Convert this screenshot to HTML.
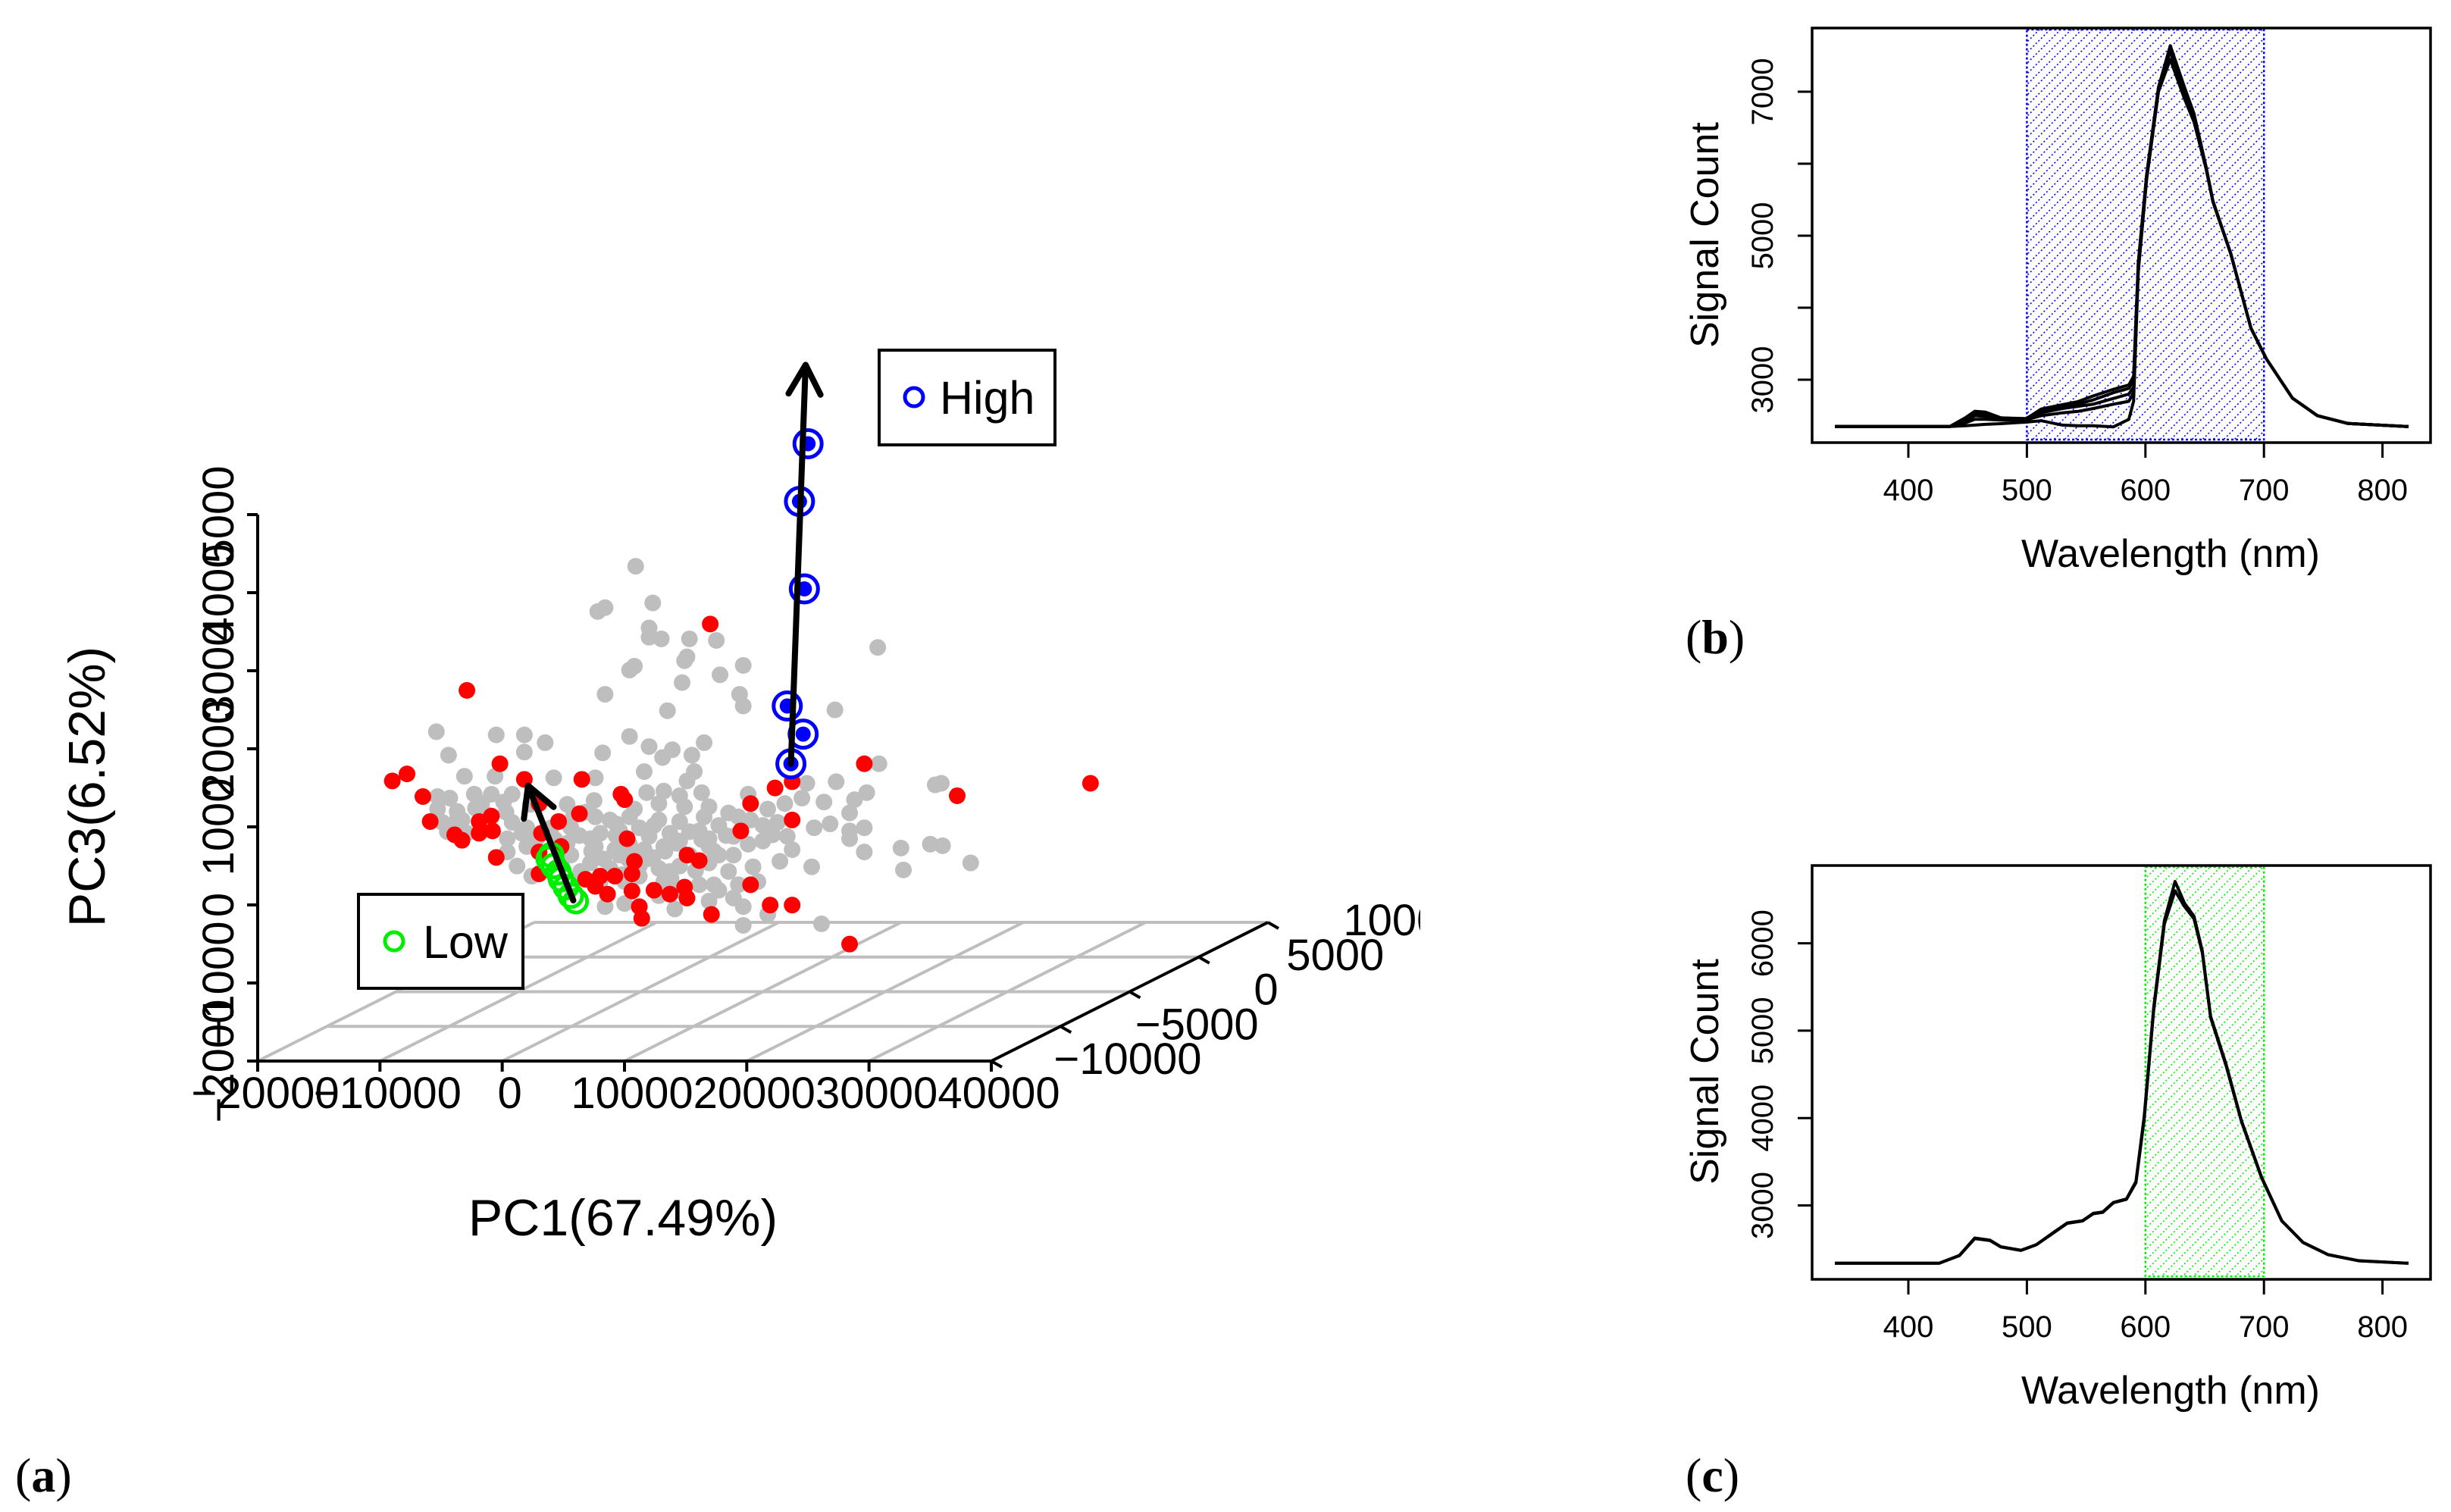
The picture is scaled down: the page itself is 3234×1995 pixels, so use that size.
<!DOCTYPE html>
<html><head><meta charset="utf-8">
<style>
html,body{margin:0;padding:0;background:#fff;}
svg{display:block;font-family:"Liberation Sans",Arial,sans-serif;}
</style></head>
<body>
<svg id="fig" xmlns="http://www.w3.org/2000/svg" width="3234" height="1995" viewBox="0 0 3234 1995">
<defs>
<pattern id="hatchBlue" patternUnits="userSpaceOnUse" width="14" height="14">
<path d="M-2,16 L16,-2" stroke="#0000ff" stroke-width="1.6" stroke-dasharray="2 3"/>
</pattern>
<pattern id="hatchGreen" patternUnits="userSpaceOnUse" width="14" height="14">
<path d="M-2,16 L16,-2" stroke="#00ee00" stroke-width="1.6" stroke-dasharray="2 3"/>
</pattern>
<clipPath id="clipA"><rect x="0" y="0" width="1874" height="1995"/></clipPath>
<clipPath id="clipB"><rect x="2391" y="37" width="816" height="547"/></clipPath>
<clipPath id="clipC"><rect x="2391" y="1142" width="816" height="546"/></clipPath>
</defs>
<g id="panelA" clip-path="url(#clipA)"></g>
<g id="panelB"></g>
<g id="panelC"></g>
<text x="20" y="1968" font-family="Liberation Serif,serif" font-size="64">(<tspan font-weight="bold">a</tspan>)</text>
<text x="2224" y="862" font-family="Liberation Serif,serif" font-size="64">(<tspan font-weight="bold">b</tspan>)</text>
<text x="2224" y="1968" font-family="Liberation Serif,serif" font-size="64">(<tspan font-weight="bold">c</tspan>)</text>
</svg>
<script>
// ---------- Panel A data (PC values in thousands) ----------
const grayPC1 = [-0.4,1.0,-3.5,-2.9,0.7,0.7,1.7,4.0,6.2,3.8,3.6,-0.5,-0.9,8.4,6.5,3.4,19.4,-2.9,8.1,8.4,2.2,15.9,-16.7,-11.8,-9.5,-7.8,-0.9,5.2,0.7,2.6,-15.7,-9.5,-3.1,1.8,4.2,-14.4,-11.9,-7.1,-3.7,0.3,4.4,3.8,19.5,13.6,16.0,24.1,24.6,-16.6,-15.6,-13.6,-12.2,-10.5,0.5,1.9,5.0,8.8,17.5,18.5,15.0,-16.6,-15.0,-13.0,-11.2,-0.5,1.5,3.6,5.6,7.2,10.4,11.8,13.2,17.1,-16.2,-14.6,-10.5,-9.3,-3.7,-2.5,1.5,3.2,5.2,8.0,10.0,11.2,14.2,15.5,17.1,18.3,-15.8,-10.9,-9.7,-5.7,-3.3,-1.7,0.7,2.4,5.6,7.6,10.8,12.0,17.1,21.3,23.7,24.7,-10.9,-9.3,-3.7,-2.1,0.3,1.9,5.6,7.6,10.0,12.4,18.3,-10.1,-4.1,-2.5,-0.1,1.5,3.2,5.6,9.2,11.4,14.0,27.0,21.5,-8.9,-3.3,-1.3,1.9,4.8,6.0,9.6,-2.9,-1.3,2.8,5.6,7.6,8.4,10.4,8.4,14.8,-0.1,2.4,7.2,4.0,6.4,1.1,3.2,-4.1,-0.9,-5.7,-4.9,-6.5,-1.7,-0.1,4.8,6.4,8.8,3.2,6.4,8.0,1.5,-0.9,-8.5,-7.3,-12.6,-14.2,3.2,
 -6.0,-5.0,-4.0,-3.0,-2.0,-1.0,0.0,1.0,2.0,3.0,4.0,5.0,6.0,7.0,9.0,-7.0,-5.5,-4.5,-2.0,-1.5,0.5,2.5,4.5,-11.0,-13.5,-15.0,-9.0,-6.0,-3.8];
const grayPC3 = [3.45,2.98,2.87,2.92,2.66,2.54,2.52,2.52,2.50,2.29,2.24,2.17,2.12,2.18,2.06,1.96,2.41,1.81,1.81,1.66,1.60,1.61,1.33,1.29,1.29,1.19,1.27,1.19,1.14,1.10,1.03,1.07,1.06,1.00,1.03,0.76,0.76,0.74,0.74,0.82,0.82,0.70,0.92,0.67,0.69,0.65,0.67,0.50,0.48,0.53,0.53,0.53,0.55,0.57,0.55,0.53,0.46,0.55,0.43,0.34,0.31,0.41,0.43,0.34,0.41,0.37,0.37,0.29,0.34,0.41,0.48,0.29,0.17,0.20,0.17,0.10,0.24,0.20,0.20,0.18,0.24,0.24,0.13,0.17,0.10,0.15,0.06,0.10,0.05,-0.04,0.03,0.10,0.03,0.06,-0.01,0.03,-0.04,-0.01,0.01,-0.01,-0.04,-0.16,-0.11,-0.13,-0.21,-0.14,-0.14,-0.18,-0.18,-0.14,-0.14,-0.25,-0.07,-0.18,-0.21,-0.39,-0.35,-0.42,-0.39,-0.42,-0.39,-0.35,-0.40,-0.33,-0.40,-0.35,-0.44,-0.52,-0.59,-0.59,-0.59,-0.63,-0.63,-0.59,-0.91,-0.87,-0.94,-0.84,-0.80,-0.91,-1.01,-1.15,-1.13,-0.52,-0.46,-0.46,-0.25,0.13,0.13,-0.07,-0.04,-0.11,-0.25,-0.46,-0.35,-0.25,0.10,0.06,-0.25,-0.11,-0.70,-0.70,-0.63,-0.77,0.24,-0.04,0.10,0.27,0.03,0.51,
 -0.10,0.00,-0.20,-0.30,0.00,-0.30,-0.25,-0.28,-0.20,-0.10,0.05,-0.05,-0.20,0.00,0.20,-0.05,0.25,0.30,0.15,-0.50,-0.30,-0.55,-0.45,0.30,0.35,0.20,0.40,0.40,0.45];
const redPC1 = [-14.2,5.7,-20.3,-19.1,-17.8,-11.5,-9.5,-4.8,-1.6,-1.3,9.0,11.0,12.4,18.3,25.9,36.8,-17.2,-13.2,-12.2,-15.2,-14.6,-13.2,-12.1,-8.3,-6.7,-5.0,12.4,8.2,-1.1,-8.1,-8.3,-6.5,-11.8,-0.5,3.8,4.8,-8.3,-4.5,-3.3,-2.1,-0.7,-3.7,-2.7,-0.7,1.1,2.4,3.6,3.8,9.0,-0.1,0.1,5.8,10.6,12.4,17.1];
const redPC3 = [1.86,2.71,0.70,0.79,0.50,0.92,0.72,0.72,0.53,0.46,0.41,0.61,0.69,0.92,0.51,0.67,0.18,0.18,0.25,0.01,-0.06,0.03,0.06,0.41,0.18,0.28,0.20,0.06,-0.04,0.03,-0.21,-0.14,-0.28,-0.33,-0.25,-0.32,-0.49,-0.56,-0.52,-0.52,-0.49,-0.65,-0.75,-0.71,-0.70,-0.75,-0.66,-0.80,-0.63,-0.91,-1.06,-1.01,-0.89,-0.89,-1.39];
const highPC1 = [13.7,13.0,13.4,12.0,13.3,12.3];
const highPC3 = [5.02,4.28,3.16,1.66,1.30,0.92];
const lowPC1 = [-7.3,-7.5,-7.1,-6.7,-6.5,-6.1,-5.7,-5.3];
const lowPC3 = [-0.25,-0.30,-0.39,-0.47,-0.56,-0.66,-0.77,-0.84];
const arrowHigh = [12.3,0.92,13.5,6.03];
const arrowLow = [-5.5,-0.83,-9.2,0.64];
const pc1Ticks = [-20000,-10000,0,10000,20000,30000,40000];
const pc1TickLabels = ["−20000","−10000","0","10000","20000","30000","40000"];
const pc2Ticks = [-10000,-5000,0,5000,10000];
const pc2TickLabels = ["−10000","−5000","0","5000","10000"];
const pc3Ticks = [-2000,-1000,0,1000,2000,3000,4000,5000];
const pc3TickLabels = ["−2000","−1000","0","1000","2000","3000","4000","5000"];

// ---------- Panel B data ----------
const wlB = [338,435,448,456,465,478,499,512,530,543,556,573,586,590,594,601,611,621,633,641,651,657,672,689,702,724,745,771,822];
const specB1 = [2350,2350,2471,2562,2550,2471,2453,2593,2653,2696,2775,2866,2927,3049,4630,5845,7061,7639,7061,6696,5967,5480,4751,3717,3292,2745,2501,2392,2350];
const specB2 = [2350,2350,2420,2500,2490,2450,2450,2540,2600,2630,2660,2740,2800,2900,4600,5830,7040,7600,7000,6650,5960,5480,4751,3717,3292,2745,2501,2392,2350];
const specB3 = [2350,2350,2400,2450,2450,2440,2440,2500,2540,2560,2600,2660,2700,2820,4560,5800,7020,7560,6980,6620,5950,5470,4751,3717,3292,2745,2501,2392,2350];
const specB4 = [2350,2350,2360,2370,2380,2390,2410,2430,2370,2360,2360,2345,2450,2700,4500,5780,7000,7450,6900,6580,5940,5470,4751,3717,3292,2745,2501,2392,2350];
const specB5 = [2350,2350,2450,2540,2520,2470,2460,2570,2620,2660,2720,2820,2880,2990,4620,5840,7050,7620,7050,6680,5960,5480,4751,3717,3292,2745,2501,2392,2350];
const xTicksB = [400,500,600,700,800];
const yTicksB = [3000,4000,5000,6000,7000];
const yTickLabelsB = ["3000","","5000","","7000"];
const bandB = [500,700];

// ---------- Panel C data ----------
const wlC = [338,426,443,456,469,478,495,508,521,534,547,556,564,573,584,592,599,607,616,625,633,641,648,655,668,681,698,715,733,754,780,822];
const specC1 = [2338,2338,2428,2627,2602,2527,2487,2552,2677,2800,2826,2910,2925,3035,3075,3274,4020,5264,6260,6707,6458,6310,5911,5165,4617,3970,3323,2826,2577,2438,2368,2338];
const specC2 = [2338,2338,2425,2620,2598,2525,2485,2550,2672,2795,2822,2905,2920,3030,3070,3260,3990,5230,6220,6600,6420,6280,5890,5150,4600,3960,3315,2822,2575,2436,2366,2338];
const xTicksC = [400,500,600,700,800];
const yTicksC = [3000,4000,5000,6000];
const yTickLabelsC = ["3000","4000","5000","6000"];
const bandC = [600,700];

const NS = "http://www.w3.org/2000/svg";
function mk(tag, attrs, parent) {
  const e = document.createElementNS(NS, tag);
  for (const k in attrs) e.setAttribute(k, attrs[k]);
  parent.appendChild(e);
  return e;
}

// ---------- Panel A ----------
const gA = document.getElementById('panelA');
function P(pc1, pc2, pc3) {
  const d = (pc2 + 10000) / 20000;
  return [340 + (pc1 + 20000) * 0.016133 + d * 365, 1400 - (pc3 + 2000) * 0.103 - d * 183];
}
for (let i = 1; i < pc2Ticks.length; i++) {
  const a = P(-20000, pc2Ticks[i], -2000), b = P(40000, pc2Ticks[i], -2000);
  const l = mk('line', {x1:a[0], y1:a[1], x2:b[0], y2:b[1], stroke:'#bebebe', 'stroke-width':4}, gA);
  
  
}
for (let i = 0; i < pc1Ticks.length - 1; i++) {
  const a = P(pc1Ticks[i], -10000, -2000), b = P(pc1Ticks[i], 10000, -2000);
  const l = mk('line', {x1:a[0], y1:a[1], x2:b[0], y2:b[1], stroke:'#bebebe', 'stroke-width':4}, gA);
  
  
}
{
  const a = P(-20000,-10000,-2000), b = P(40000,-10000,-2000), c = P(40000,10000,-2000), t = P(-20000,-10000,5000);
  const ax1 = mk('line', {x1:a[0], y1:a[1], x2:b[0], y2:b[1], stroke:'#000', 'stroke-width':4}, gA);
  
  
  const ax2 = mk('line', {x1:b[0], y1:b[1], x2:c[0], y2:c[1], stroke:'#000', 'stroke-width':4}, gA);
  
  
  const ax3 = mk('line', {x1:a[0], y1:a[1], x2:t[0], y2:t[1], stroke:'#000', 'stroke-width':4}, gA);
  
  
}
pc1Ticks.forEach((v, i) => {
  const p = P(v, -10000, -2000);
  const tk = mk('line', {x1:p[0], y1:p[1], x2:p[0], y2:p[1] + 14, stroke:'#000', 'stroke-width':4}, gA);
  
  
  const tx = mk('text', {x:p[0] + 10, y:p[1] + 62, 'font-size':58, 'text-anchor':'middle'}, gA);
  tx.textContent = pc1TickLabels[i];
  
  
});
pc2Ticks.forEach((v, i) => {
  const p = P(40000, v, -2000);
  const tk = mk('line', {x1:p[0], y1:p[1], x2:p[0] + 14, y2:p[1] + 8, stroke:'#000', 'stroke-width':4}, gA);
  
  
  const tx = mk('text', {x:p[0] + 180, y:p[1] + 17, 'font-size':58, 'text-anchor':'middle'}, gA);
  tx.textContent = pc2TickLabels[i];
  
  
});
pc3Ticks.forEach((v, i) => {
  const p = P(-20000, -10000, v);
  const tk = mk('line', {x1:p[0] - 14, y1:p[1], x2:p[0], y2:p[1], stroke:'#000', 'stroke-width':4}, gA);
  
  
  const tx = mk('text', {x:0, y:0, 'font-size':58, 'text-anchor':'middle', transform:'translate(' + (p[0] - 32) + ',' + p[1] + ') rotate(-90)'}, gA);
  tx.textContent = pc3TickLabels[i];
  
  
});
grayPC1.forEach((v, i) => {
  const p = P(v * 1000, 0, grayPC3[i] * 1000);
  const c = mk('circle', {cx:p[0], cy:p[1], r:11, fill:'#bebebe'}, gA);
  
  
});
redPC1.forEach((v, i) => {
  const p = P(v * 1000, 0, redPC3[i] * 1000);
  const c = mk('circle', {cx:p[0], cy:p[1], r:11, fill:'#ff0000'}, gA);
  
  
});
highPC1.forEach((v, i) => {
  const p = P(v * 1000, 0, highPC3[i] * 1000);
  const c = mk('circle', {cx:p[0], cy:p[1], r:18, fill:'#fff', stroke:'#0000ff', 'stroke-width':5}, gA);
  
  
  const d = mk('circle', {cx:p[0], cy:p[1], r:10, fill:'#0000ff'}, gA);
  
  
});
lowPC1.forEach((v, i) => {
  const p = P(v * 1000, 0, lowPC3[i] * 1000);
  const c = mk('circle', {cx:p[0], cy:p[1], r:15, fill:'none', stroke:'#00ee00', 'stroke-width':5}, gA);
  
  
});
function arrow(a, name) {
  const s = P(a[0] * 1000, 0, a[1] * 1000), e = P(a[2] * 1000, 0, a[3] * 1000);
  const ang = Math.atan2(e[1] - s[1], e[0] - s[0]);
  const L = 44, w = 0.5;
  const h1 = [e[0] - L * Math.cos(ang - w), e[1] - L * Math.sin(ang - w)];
  const h2 = [e[0] - L * Math.cos(ang + w), e[1] - L * Math.sin(ang + w)];
  const g = mk('path', {d:'M' + s[0] + ',' + s[1] + 'L' + e[0] + ',' + e[1] + 'M' + h1[0] + ',' + h1[1] + 'L' + e[0] + ',' + e[1] + 'L' + h2[0] + ',' + h2[1], fill:'none', stroke:'#000', 'stroke-width':8, 'stroke-linecap':'round', 'stroke-linejoin':'round'}, gA);
  
  
}
arrow(arrowHigh, 'high-arrow');
arrow(arrowLow, 'low-arrow');
{
  const lg = mk('g', {}, gA);
  
  
  mk('rect', {x:1160, y:462, width:232, height:125, fill:'#fff', stroke:'#000', 'stroke-width':4}, lg);
  mk('circle', {cx:1206, cy:524, r:12, fill:'none', stroke:'#0000ff', 'stroke-width':5}, lg);
  const t = mk('text', {x:1240, y:546, 'font-size':61}, lg);
  t.textContent = 'High';
  const lg2 = mk('g', {}, gA);
  
  
  mk('rect', {x:473, y:1180, width:217, height:124, fill:'#fff', stroke:'#000', 'stroke-width':4}, lg2);
  mk('circle', {cx:520, cy:1242, r:12, fill:'none', stroke:'#00ee00', 'stroke-width':5}, lg2);
  const t2 = mk('text', {x:558, y:1264, 'font-size':61}, lg2);
  t2.textContent = 'Low';
}
{
  const t1 = mk('text', {x:822, y:1630, 'font-size':68, 'text-anchor':'middle'}, gA);
  t1.textContent = 'PC1(67.49%)';
  
  
  const t3 = mk('text', {x:0, y:0, 'font-size':68, 'text-anchor':'middle', transform:'translate(138,1038) rotate(-90)'}, gA);
  t3.textContent = 'PC3(6.52%)';
  
  
  const t2 = mk('text', {x:0, y:0, 'font-size':68, 'text-anchor':'middle', transform:'translate(1985,1221) rotate(-90)'}, gA);
  t2.textContent = 'PC2(16.73%)';
  
  
}

// ---------- Spectrum panels ----------
function spectrum(g, cfg) {
  const X = w => 2518 + (w - 400) * 1.564;
  const Y = v => cfg.y0 - (v - cfg.v0) * cfg.k;
  const band = mk('rect', {x:X(cfg.band[0]), y:cfg.top + 2, width:X(cfg.band[1]) - X(cfg.band[0]), height:cfg.bot - cfg.top - 6, fill:'url(#' + cfg.pat + ')', stroke:cfg.col, 'stroke-width':2.5, 'stroke-dasharray':'3 3'}, g);
  
  
  const cg = mk('g', {'clip-path':'url(#' + cfg.clip + ')'}, g);
  cfg.series.forEach(s => {
    const d = s.map((v, i) => (i ? 'L' : 'M') + X(cfg.wl[i]).toFixed(1) + ',' + Y(v).toFixed(1)).join('');
    const p = mk('path', {d:d, fill:'none', stroke:'#000', 'stroke-width':4, 'stroke-linejoin':'round'}, cg);
    
    
  });
  const box = mk('rect', {x:2391, y:cfg.top, width:816, height:cfg.bot - cfg.top, fill:'none', stroke:'#000', 'stroke-width':3.5}, g);
  
  
  cfg.xt.forEach(v => {
    const tk = mk('line', {x1:X(v), y1:cfg.bot, x2:X(v), y2:cfg.bot + 20, stroke:'#000', 'stroke-width':3}, g);
    
    
    const t = mk('text', {x:X(v), y:cfg.bot + 76, 'font-size':40, 'text-anchor':'middle'}, g);
    t.textContent = String(v);
    
    
  });
  cfg.yt.forEach((v, i) => {
    const tk = mk('line', {x1:2372, y1:Y(v), x2:2391, y2:Y(v), stroke:'#000', 'stroke-width':3}, g);
    
    
    if (cfg.ytl[i]) {
      const t = mk('text', {x:0, y:0, 'font-size':40, 'text-anchor':'middle', transform:'translate(2339,' + Y(v) + ') rotate(-90)'}, g);
      t.textContent = cfg.ytl[i];
      
      
    }
  });
  const xl = mk('text', {x:2864, y:cfg.bot + 164, 'font-size':52, 'text-anchor':'middle'}, g);
  xl.textContent = 'Wavelength (nm)';
  
  
  const yl = mk('text', {x:0, y:0, 'font-size':52, 'text-anchor':'middle', transform:'translate(2267,' + cfg.ymid + ') rotate(-90)'}, g);
  yl.textContent = 'Signal Count';
  
  
}
spectrum(document.getElementById('panelB'), {wl:wlB, series:[specB4, specB3, specB2, specB5, specB1], y0:501, v0:3000, k:0.095, top:37, bot:584, band:bandB, pat:'hatchBlue', col:'#0000ff', clip:'clipB', xt:xTicksB, yt:yTicksB, ytl:yTickLabelsB, ymid:310});
spectrum(document.getElementById('panelC'), {wl:wlC, series:[specC2, specC1], y0:1590.5, v0:3000, k:0.1153, top:1142, bot:1688, band:bandC, pat:'hatchGreen', col:'#00ee00', clip:'clipC', xt:xTicksC, yt:yTicksC, ytl:yTickLabelsC, ymid:1414});
</script>
</body></html>
